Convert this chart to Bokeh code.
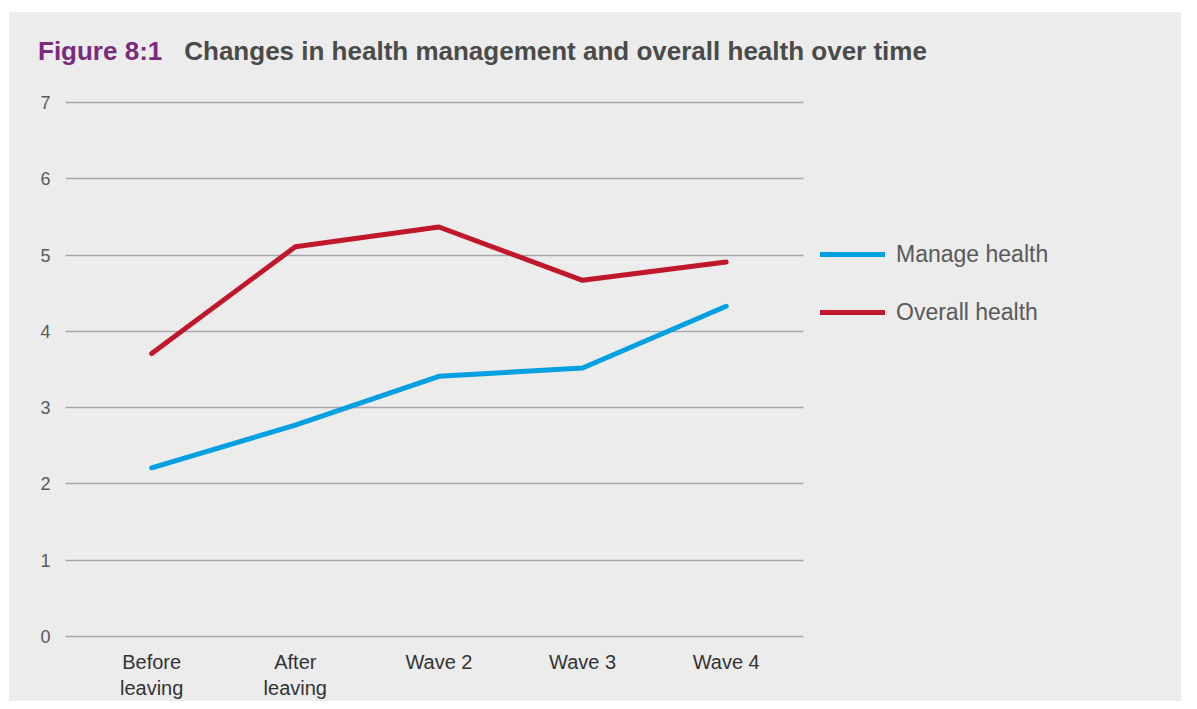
from bokeh.plotting import figure
from bokeh.models import (Range1d, FixedTicker, Legend, LegendItem, Spacer, Div)
from bokeh.layouts import column, row
from bokeh.embed import file_html
from bokeh.resources import INLINE

# ---- data ----
categories = ["Before\nleaving", "After\nleaving", "Wave 2", "Wave 3", "Wave 4"]
manage_health = [2.21, 2.77, 3.41, 3.52, 4.33]
overall_health = [3.71, 5.11, 5.37, 4.67, 4.91]
y_ticks = [0, 1, 2, 3, 4, 5, 6, 7]
title_prefix = "Figure 8:1"
title_text = "Changes in health management and overall health over time"

# ---- styles ----
BG = "#ececec"
GRID = "#a6a6a6"
BLUE = "#00a0e2"
RED = "#c1172b"
FONT = "Liberation Sans"
W = 1172
X_START, X_GRID_END, X_END = -0.60, 4.54, 7.17

xpos = list(range(len(categories)))

# ---- title ----
title_html = (
    f'<div style="padding:26px 0 0 29px;font-family:\'Liberation Sans\',Arial,sans-serif;'
    f'font-weight:bold;font-size:26px;line-height:26px;white-space:nowrap">'
    f'<span style="color:#7b2a7d">{title_prefix}</span>'
    f'<span style="color:#4a4a4a;margin-left:22px">{title_text}</span></div>'
)
div = Div(text=title_html, width=W, height=60, margin=0,
          styles={"background-color": BG})

# ---- main chart ----
p = figure(width=W, height=629, output_backend="svg", toolbar_location=None,
           x_range=Range1d(X_START, X_END), y_range=Range1d(-0.03, 7.03),
           min_border_left=56, min_border_right=0, min_border_top=28,
           min_border_bottom=63, margin=0)
p.background_fill_color = BG
p.border_fill_color = BG
p.outline_line_color = None

xax = p.xaxis[0]
xax.ticker = FixedTicker(ticks=xpos)
xax.major_label_overrides = {i: c for i, c in zip(xpos, categories)}
xax.axis_line_color = None
xax.major_tick_line_color = None
xax.minor_tick_line_color = None
xax.major_tick_out = 0
xax.major_tick_in = 0
xax.minor_tick_out = 0
xax.major_label_standoff = 12
xax.major_label_text_font = FONT
xax.major_label_text_font_size = "20px"
xax.major_label_text_color = "#333333"
p.xgrid.grid_line_color = None

yax = p.yaxis[0]
yax.ticker = FixedTicker(ticks=y_ticks)
yax.axis_line_color = None
yax.major_tick_line_color = None
yax.minor_tick_line_color = None
yax.major_tick_out = 0
yax.major_tick_in = 0
yax.minor_tick_out = 0
yax.major_label_standoff = 15
yax.major_label_text_font = FONT
yax.major_label_text_font_size = "18px"
yax.major_label_text_color = "#595959"
p.ygrid.ticker = FixedTicker(ticks=y_ticks)
p.ygrid.grid_line_color = GRID
p.ygrid.grid_line_width = 1.5
p.ygrid.cross_bounds = (X_START, X_GRID_END)

r1 = p.line(xpos, manage_health, line_color=BLUE, line_width=5, line_cap="round")
r2 = p.line(xpos, overall_health, line_color=RED, line_width=5, line_cap="round")

legend = Legend(items=[LegendItem(label="Manage health", renderers=[r1]),
                       LegendItem(label="Overall health", renderers=[r2])],
                location=(755, 311), orientation="vertical",
                glyph_width=65, glyph_height=30, label_height=30, spacing=28,
                label_standoff=11, padding=0, margin=0,
                border_line_alpha=0, background_fill_alpha=0,
                label_text_font=FONT, label_text_font_size="23px",
                label_text_color="#595959")
p.add_layout(legend)

chart = column(div, p, width=W, height=689, spacing=0, margin=0,
               styles={"background-color": BG})
layout = row(Spacer(width=9, height=701, margin=0),
             column(Spacer(width=W, height=12, margin=0), chart, spacing=0, margin=0),
             spacing=0, margin=0)
open("out.html", "w").write(file_html(layout, INLINE))
